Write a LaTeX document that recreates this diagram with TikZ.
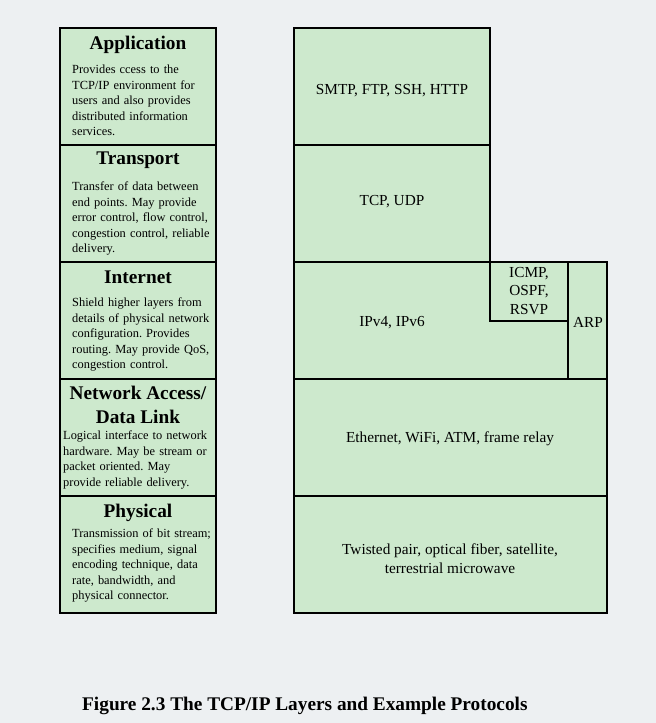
\documentclass[tikz,border=0pt]{standalone}
\usepackage{fontspec}
\setmainfont{Liberation Serif}
\definecolor{bg}{HTML}{EDF0F2}
\definecolor{lay}{HTML}{CDE9CD}
\begin{document}
\frenchspacing
\begin{tikzpicture}[x=1pt,y=-1pt,
  cell/.style={draw=black,line width=1.6pt,fill=lay},
  ttl/.style={font=\fontsize{19.3}{23}\selectfont\bfseries,anchor=north,inner sep=0pt},
  desc/.style={font=\fontsize{12.4}{15.4}\selectfont,anchor=north west,inner sep=0pt,align=left,text width=160pt},
  prot/.style={font=\fontsize{15.3}{18}\selectfont,align=center,inner sep=0pt}]
\fill[bg] (0,0) rectangle (656,723);
\useasboundingbox (0,0) rectangle (656,723);
% left column
\foreach \a/\b in {28/145,145/262,262/379,379/496,496/613}
  \draw[cell] (60,\a) rectangle (216,\b);
\node[ttl] (t1) at (138,36) {Application};
\node[desc] (d1) at (72,65) {Provides ccess to the\\TCP/IP environment for\\users and also provides\\distributed information\\services.};
\node[ttl] (t2) at (138,152) {Transport};
\node[desc] (d2) at (72,182) {Transfer of data between\\end points. May provide\\error control, flow control,\\congestion control, reliable\\delivery.};
\node[ttl] (t3) at (138,271) {Internet};
\node[desc] (d3) at (72,298) {Shield higher layers from\\details of physical network\\configuration. Provides\\routing. May provide QoS,\\congestion control.};
\node[ttl,align=center,font=\fontsize{19.3}{24}\selectfont\bfseries] (t4) at (138,386) {Network Access/\\Data Link};
\node[desc] (d4) at (63,431) {Logical interface to network\\hardware. May be stream or\\packet oriented. May\\provide reliable delivery.};
\node[ttl] (t5) at (138,504) {Physical};
\node[desc] (d5) at (72,529) {Transmission of bit stream;\\specifies medium, signal\\encoding technique, data\\rate, bandwidth, and\\physical connector.};
% right column
\draw[cell] (294,28) rectangle (490,145);
\draw[cell] (294,145) rectangle (490,262);
\draw[cell] (294,262) rectangle (607,379);
\draw[cell] (490,262) rectangle (568,321);
\draw[cell] (568,262) rectangle (607,379);
\draw[cell] (294,379) rectangle (607,496);
\draw[cell] (294,496) rectangle (607,613);
\node[prot] (p1) at (392,91) {SMTP, FTP, SSH, HTTP};
\node[prot] (p2) at (392,202) {TCP, UDP};
\node[prot] (p3) at (392,323) {IPv4, IPv6};
\node[prot,font=\fontsize{15.3}{18.5}\selectfont] (p4) at (529,291) {ICMP,\\OSPF,\\RSVP};
\node[prot] (p5) at (588,322) {ARP};
\node[prot] (p6) at (450,439) {Ethernet, WiFi, ATM, frame relay};
\node[prot,font=\fontsize{15.3}{19}\selectfont] (p7) at (450,559) {Twisted pair, optical fiber, satellite,\\terrestrial microwave};
\node[font=\fontsize{19.3}{22}\selectfont\bfseries,anchor=west,inner sep=0pt] (cap) at (82,706) {Figure 2.3 The TCP/IP Layers and Example Protocols};
\end{tikzpicture}
\end{document}
